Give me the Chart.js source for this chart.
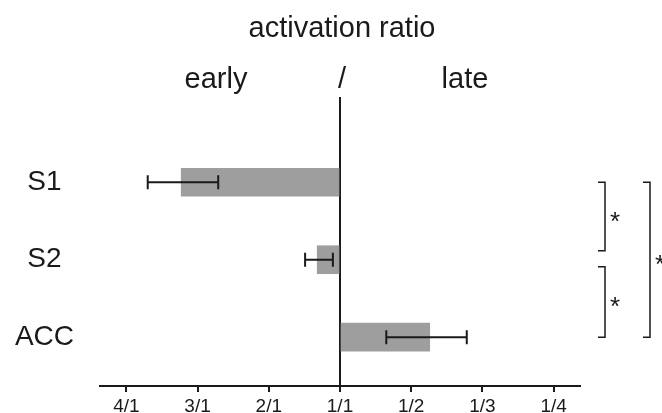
<!DOCTYPE html>
<html>
<head>
<meta charset="utf-8">
<script src="https://cdn.jsdelivr.net/npm/chart.js@4.4.1/dist/chart.umd.min.js"></script>
<style>
  html, body { margin: 0; padding: 0; background: #fff; }
  #wrap { width: 662px; height: 413px; }
</style>
</head>
<body>
<div id="wrap"><canvas id="chart-area"></canvas></div>
<script>
  'use strict';

  // ratio axis: 0 = 1/1, n/1 -> -(n-1), 1/n -> n-1
  var categories = ['S1', 'S2', 'ACC'];
  var ratioValues = [-2.23, -0.32, 1.26];
  var errLow = [-2.70, -0.49, 0.65];
  var errHigh = [-1.71, -0.10, 1.78];
  var tickValues = [-3, -2, -1, 0, 1, 2, 3];
  var tickLabels = ['4/1', '3/1', '2/1', '1/1', '1/2', '1/3', '1/4'];
  // [from category, to category, mark]
  var brackets = [[0, 1, '*'], [1, 2, '*'], [0, 2, '*']];

  var ink = '#1a1a1a';
  var font = 'Liberation Sans, Arial, Helvetica, sans-serif';

  var barData = ratioValues.map(function (v, i) { return { x: v, y: i }; });

  var headerPlugin = {
    id: 'header',
    afterDraw: function (chart) {
      var ctx = chart.ctx;
      var xs = chart.scales.x;
      var mid = xs.getPixelForValue(0) + 2;
      ctx.save();
      ctx.fillStyle = ink;
      ctx.font = '29px ' + font;
      ctx.textAlign = 'center';
      ctx.textBaseline = 'alphabetic';
      ctx.fillText('activation ratio', mid, 37);
      ctx.fillText('early', 216, 88);
      ctx.fillText('/', mid, 88);
      ctx.fillText('late', 465, 88);
      ctx.restore();
    }
  };

  var errorBarPlugin = {
    id: 'errorBars',
    afterDatasetsDraw: function (chart) {
      var ctx = chart.ctx;
      var xs = chart.scales.x, ys = chart.scales.y;
      ctx.save();
      ctx.strokeStyle = ink;
      ctx.lineWidth = 2;
      categories.forEach(function (c, i) {
        var y = ys.getPixelForValue(i);
        var a = xs.getPixelForValue(errLow[i]);
        var b = xs.getPixelForValue(errHigh[i]);
        ctx.beginPath();
        ctx.moveTo(a, y); ctx.lineTo(b, y);
        ctx.moveTo(a, y - 7); ctx.lineTo(a, y + 7);
        ctx.moveTo(b, y - 7); ctx.lineTo(b, y + 7);
        ctx.stroke();
      });
      ctx.restore();
    }
  };

  var bracketPlugin = {
    id: 'brackets',
    afterDraw: function (chart) {
      var ctx = chart.ctx;
      var ys = chart.scales.y;
      var cols = [605, 605, 650];
      var gapTop = [0, 7, 0];
      var gapBottom = [9, 0, 0];
      ctx.save();
      ctx.strokeStyle = ink;
      ctx.fillStyle = ink;
      ctx.lineWidth = 1.5;
      brackets.forEach(function (br, k) {
        var x = cols[k];
        var y1 = ys.getPixelForValue(br[0]) + gapTop[k];
        var y2 = ys.getPixelForValue(br[1]) - gapBottom[k];
        ctx.beginPath();
        ctx.moveTo(x - 7, y1); ctx.lineTo(x, y1);
        ctx.lineTo(x, y2); ctx.lineTo(x - 7, y2);
        ctx.stroke();
        ctx.font = '26px ' + font;
        ctx.textAlign = 'center';
        ctx.textBaseline = 'middle';
        ctx.fillText(br[2], x + 10, (y1 + y2) / 2 + 6);
      });
      ctx.restore();
    }
  };

  var ctx = document.getElementById('chart-area').getContext('2d');
  window.ratioChart = new Chart(ctx, {
    type: 'bar',
    data: {
      datasets: [{
        data: barData,
        backgroundColor: '#9e9e9e',
        borderWidth: 0,
        barThickness: 28
      }]
    },
    options: {
      indexAxis: 'y',
      responsive: true,
      maintainAspectRatio: false,
      animation: false,
      layout: { padding: { left: 0, right: 82, top: 97, bottom: 0 } },
      plugins: {
        legend: { display: false },
        tooltip: { enabled: false }
      },
      scales: {
        x: {
          type: 'linear',
          min: -3.37,
          max: 3.37,
          offset: false,
          afterBuildTicks: function (scale) {
            scale.ticks = tickValues.map(function (v) { return { value: v }; });
          },
          afterFit: function (scale) { scale.height = 27; },
          border: { display: true, color: ink, width: 2 },
          grid: {
            offset: false,
            drawOnChartArea: true,
            color: function (c) { return c.tick && c.tick.value === 0 ? ink : 'rgba(0,0,0,0)'; },
            lineWidth: 2,
            tickColor: ink,
            tickLength: 6
          },
          ticks: {
            padding: 3,
            color: ink,
            font: { family: font, size: 19 },
            callback: function (v) { return tickLabels[tickValues.indexOf(v)]; }
          }
        },
        y: {
          type: 'linear',
          reverse: true,
          offset: false,
          bounds: 'data',
          grace: 0,
          min: -1.1,
          max: 2.63,
          afterBuildTicks: function (scale) {
            scale.ticks = categories.map(function (c, i) { return { value: i }; });
          },
          afterFit: function (scale) {
            scale.width = 100;
            scale.paddingTop = 0;
            scale.paddingBottom = 0;
          },
          border: { display: false },
          grid: { display: false, drawTicks: false, offset: false },
          ticks: {
            crossAlign: 'center',
            padding: 26,
            color: ink,
            font: { family: font, size: 28 },
            callback: function (v) { return categories[v]; }
          }
        }
      }
    },
    plugins: [headerPlugin, errorBarPlugin, bracketPlugin]
  });
</script>
</body>
</html>
